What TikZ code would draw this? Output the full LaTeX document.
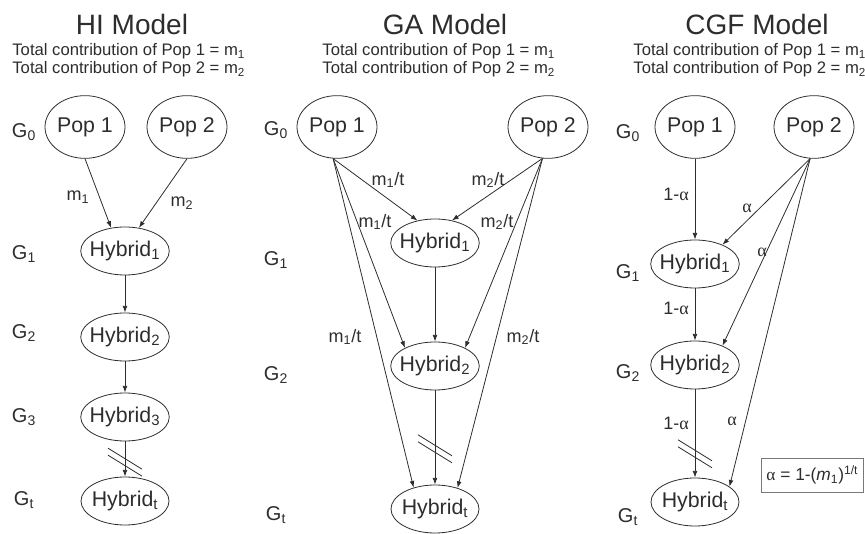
\documentclass[tikz,border=0pt]{standalone}
\usepackage{fontspec}
\setmainfont{Liberation Sans}
\newfontfamily\symfont{Liberation Serif}
\usetikzlibrary{shapes.geometric,arrows.meta}

\definecolor{ink}{RGB}{45,45,45}
\definecolor{boxline}{RGB}{120,120,120}
\newcommand{\fsz}[1]{\fontsize{#1}{#1}\selectfont}
\newcommand{\alp}{{\symfont α}}

\tikzset{every picture/.style={line width=0.6pt}}
\tikzset{
  popnode/.style={ellipse, draw=ink, text=ink, minimum width=60pt, minimum height=47pt, inner sep=0pt, font=\fsz{16}},
  hybnode/.style={ellipse, draw=ink, text=ink, minimum width=66pt, minimum height=36pt, inner xsep=-3pt, inner ysep=0pt, font=\fsz{16}},
  modeltitle/.style={text=ink, font=\fsz{21}, anchor=base, inner sep=0pt},
  modelsub/.style={text=ink, font=\fsz{12.5}, anchor=base west, inner sep=0pt},
  genlabel/.style={text=ink, font=\fsz{15}, inner sep=0pt},
  edgelabel/.style={text=ink, font=\fsz{13.5}, inner sep=0pt},
  formbox/.style={draw=boxline, text=ink, font=\fsz{13}, inner xsep=4pt, minimum height=25.5pt},
  flow/.style={draw=ink, -{Latex[length=5pt,width=3.6pt]}},
  gapmark/.pic={\draw[ink] (-17,7) -- (17,-14); \draw[ink] (-17,14) -- (17,-7);}
}

\begin{document}
\begin{tikzpicture}[x=0.75pt,y=0.75pt,yscale=-1,xscale=1]
	\useasboundingbox (0,0) rectangle (865,534);

	% HI Model
	\node[modeltitle] (hiTitle) at (132,35) {HI Model};
	\node[modelsub] (hiSubA) at (12,56) {Total contribution of Pop 1 = m\textsubscript{1}};
	\node[modelsub] (hiSubB) at (12,74) {Total contribution of Pop 2 = m\textsubscript{2}};

	\node[genlabel] (hiG0) at (24,132) {G\textsubscript{0}};
	\node[genlabel] (hiG1) at (24,254) {G\textsubscript{1}};
	\node[genlabel] (hiG2) at (24,333) {G\textsubscript{2}};
	\node[genlabel] (hiG3) at (24,417) {G\textsubscript{3}};
	\node[genlabel] (hiGt) at (24,500) {G\textsubscript{t}};

	\node[popnode] (hiP1) at (85,127) {Pop 1};
	\node[popnode] (hiP2) at (187,127) {Pop 2};
	\node[hybnode] (hiH1) at (125,251) {Hybrid\textsubscript{1}};
	\node[hybnode] (hiH2) at (125,337) {Hybrid\textsubscript{2}};
	\node[hybnode] (hiH3) at (125,417) {Hybrid\textsubscript{3}};
	\node[hybnode] (hiHt) at (125,501) {Hybrid\textsubscript{t}};

	\draw[flow] (hiP1.south) -- (hiH1.121);
	\draw[flow] (hiP2.south) -- (hiH1.59);
	\draw[flow] (hiH1) -- (hiH2);
	\draw[flow] (hiH2) -- (hiH3);
	\draw[flow] (hiH3) -- coordinate[pos=.59] (hiGap) (hiHt);
	\pic at (hiGap) {gapmark};

	\node[edgelabel] (hiLa) at (78,197) {m\textsubscript{1}};
	\node[edgelabel] (hiLb) at (182,203) {m\textsubscript{2}};

	% GA Model
	\node[modeltitle] (gaTitle) at (445,35) {GA Model};
	\node[modelsub] (gaSubA) at (322,56) {Total contribution of Pop 1 = m\textsubscript{1}};
	\node[modelsub] (gaSubB) at (322,74) {Total contribution of Pop 2 = m\textsubscript{2}};

	\node[genlabel] (gaG0) at (276,130) {G\textsubscript{0}};
	\node[genlabel] (gaG1) at (276,260) {G\textsubscript{1}};
	\node[genlabel] (gaG2) at (276,375) {G\textsubscript{2}};
	\node[genlabel] (gaGt) at (276,515) {G\textsubscript{t}};

	\node[popnode] (gaP1) at (337,127) {Pop 1};
	\node[popnode] (gaP2) at (548,127) {Pop 2};
	\node[hybnode] (gaH1) at (435,243) {Hybrid\textsubscript{1}};
	\node[hybnode] (gaH2) at (435,366) {Hybrid\textsubscript{2}};
	\node[hybnode] (gaHt) at (435,509) {Hybrid\textsubscript{t}};

	\draw[flow] (gaP1.263) -- (gaH1.128);
	\draw[flow] (gaP1.263) -- (gaH2.149);
	\draw[flow] (gaP1.263) -- (gaHt.135);
	\draw[flow] (gaP2.260) -- (gaH1.53);
	\draw[flow] (gaP2.260) -- (gaH2.31);
	\draw[flow] (gaP2.260) -- (gaHt.43);
	\draw[flow] (gaH1) -- (gaH2);
	\draw[flow] (gaH2) -- coordinate[pos=.62] (gaGap) (gaHt);
	\pic at (gaGap) {gapmark};

	\node[edgelabel] (gaLa) at (388,180) {m\textsubscript{1}/t};
	\node[edgelabel] (gaLb) at (488,180) {m\textsubscript{2}/t};
	\node[edgelabel] (gaLc) at (375,222) {m\textsubscript{1}/t};
	\node[edgelabel] (gaLd) at (497,222) {m\textsubscript{2}/t};
	\node[edgelabel] (gaLe) at (345,337) {m\textsubscript{1}/t};
	\node[edgelabel] (gaLf) at (523,337) {m\textsubscript{2}/t};

	% CGF Model
	\node[modeltitle] (cgTitle) at (757,35) {CGF Model};
	\node[modelsub] (cgSubA) at (633,56) {Total contribution of Pop 1 = m\textsubscript{1}};
	\node[modelsub] (cgSubB) at (633,74) {Total contribution of Pop 2 = m\textsubscript{2}};

	\node[genlabel] (cgG0) at (628,133) {G\textsubscript{0}};
	\node[genlabel] (cgG1) at (628,273) {G\textsubscript{1}};
	\node[genlabel] (cgG2) at (628,373) {G\textsubscript{2}};
	\node[genlabel] (cgGt) at (628,517) {G\textsubscript{t}};

	\node[popnode] (cgP1) at (695,127) {Pop 1};
	\node[popnode] (cgP2) at (814,127) {Pop 2};
	\node[hybnode] (cgH1) at (695,264) {Hybrid\textsubscript{1}};
	\node[hybnode] (cgH2) at (695,365) {Hybrid\textsubscript{2}};
	\node[hybnode] (cgHt) at (695,502) {Hybrid\textsubscript{t}};

	\draw[flow] (cgP1) -- (cgH1);
	\draw[flow] (cgH1) -- (cgH2);
	\draw[flow] (cgH2) -- coordinate[pos=.73] (cgGap) (cgHt);
	\pic at (cgGap) {gapmark};
	\draw[flow] (cgP2.263) -- (cgH1.35);
	\draw[flow] (cgP2.263) -- (cgH2.35);
	\draw[flow] (cgP2.263) -- (cgHt.24);

	\node[edgelabel] (cgLa) at (676,194) {1-\alp};
	\node[edgelabel] (cgLb) at (676,308) {1-\alp};
	\node[edgelabel] (cgLc) at (676,423) {1-\alp};
	\node[edgelabel] (cgLd) at (747,208) {\alp};
	\node[edgelabel] (cgLe) at (762,252) {\alp};
	\node[edgelabel] (cgLf) at (732,421) {\alp};

	\node[formbox, anchor=east] (cgBox) at (864,475) {\alp{} = 1-(\textit{m}\textsubscript{1})\textsuperscript{1/t}};

\end{tikzpicture}
\end{document}
